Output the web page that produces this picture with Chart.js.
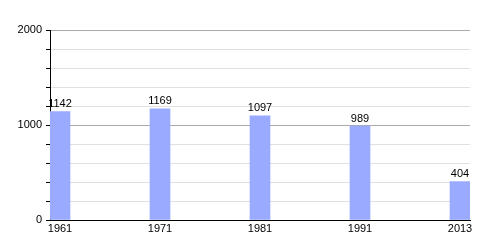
<!DOCTYPE html>
<html><head><meta charset="utf-8">
<script src="https://cdn.jsdelivr.net/npm/chart.js@4/dist/chart.umd.min.js"></script>
<style>html,body{margin:0;padding:0;background:#fff}#wrap{width:500px;height:250px}</style>
</head><body><div id="wrap"><canvas id="c" width="500" height="250"></canvas></div>
<script>
const years = ["1961","1971","1981","1991","2013"];
const population = [1142,1169,1097,989,404];
const yTickLabels = [0,1000,2000];

const valueLabels = {
  id:'valueLabels',
  afterDatasetsDraw(chart){
    const ctx = chart.ctx;
    const meta = chart.getDatasetMeta(0);
    ctx.save();
    ctx.font = '11px "Liberation Sans", Arial, sans-serif';
    ctx.fillStyle = '#000';
    ctx.textAlign = 'center';
    ctx.textBaseline = 'bottom';
    meta.data.forEach((el,i)=>{ ctx.fillText(String(population[i]), el.x, el.y - 2); });
    ctx.restore();
  }
};

new Chart(document.getElementById('c'), {
  type:'bar',
  data:{ datasets:[{ data: population.map((v,i)=>({x:i,y:v})), backgroundColor:'#99AAFF', borderWidth:0, barThickness:20 }] },
  options:{
    responsive:false, animation:false,
    layout:{ padding:{ left:0, right:30, top:30, bottom:0 } },
    plugins:{ legend:{display:false}, tooltip:{enabled:false} },
    scales:{
      x:{ type:'linear', min:-0.1, max:4.1, offset:false,
        afterBuildTicks(axis){ axis.ticks = years.map((_,i)=>({value:i})); },
        afterFit(axis){ axis.height = 30; },
        grid:{ display:false, drawTicks:false },
        border:{ display:true, color:'#000', width:1 },
        ticks:{ color:'#000', padding:2, maxRotation:0, autoSkip:false,
          font:{ family:'"Liberation Sans", Arial, sans-serif', size:11 },
          callback:(v)=> years[v] ?? '' }
      },
      y:{ min:0, max:2000,
        afterBuildTicks(axis){ const t=[]; for(let v=0; v<=2000; v+=200) t.push({value:v}); axis.ticks=t; },
        afterFit(axis){ axis.width = 50; },
        border:{ display:true, color:'#000', width:1 },
        grid:{ drawTicks:true, tickLength:4, tickColor:'#000',
          color:(c)=> (c.tick && c.tick.value % 1000 === 0) ? '#aaaaaa' : '#e0e0e0',
          lineWidth:1 },
        ticks:{ color:'#000', padding:4, autoSkip:false,
          font:{ family:'"Liberation Sans", Arial, sans-serif', size:11 },
          callback:(v)=> yTickLabels.includes(v) ? String(v) : '' }
      }
    }
  },
  plugins:[valueLabels]
});
</script></body></html>
